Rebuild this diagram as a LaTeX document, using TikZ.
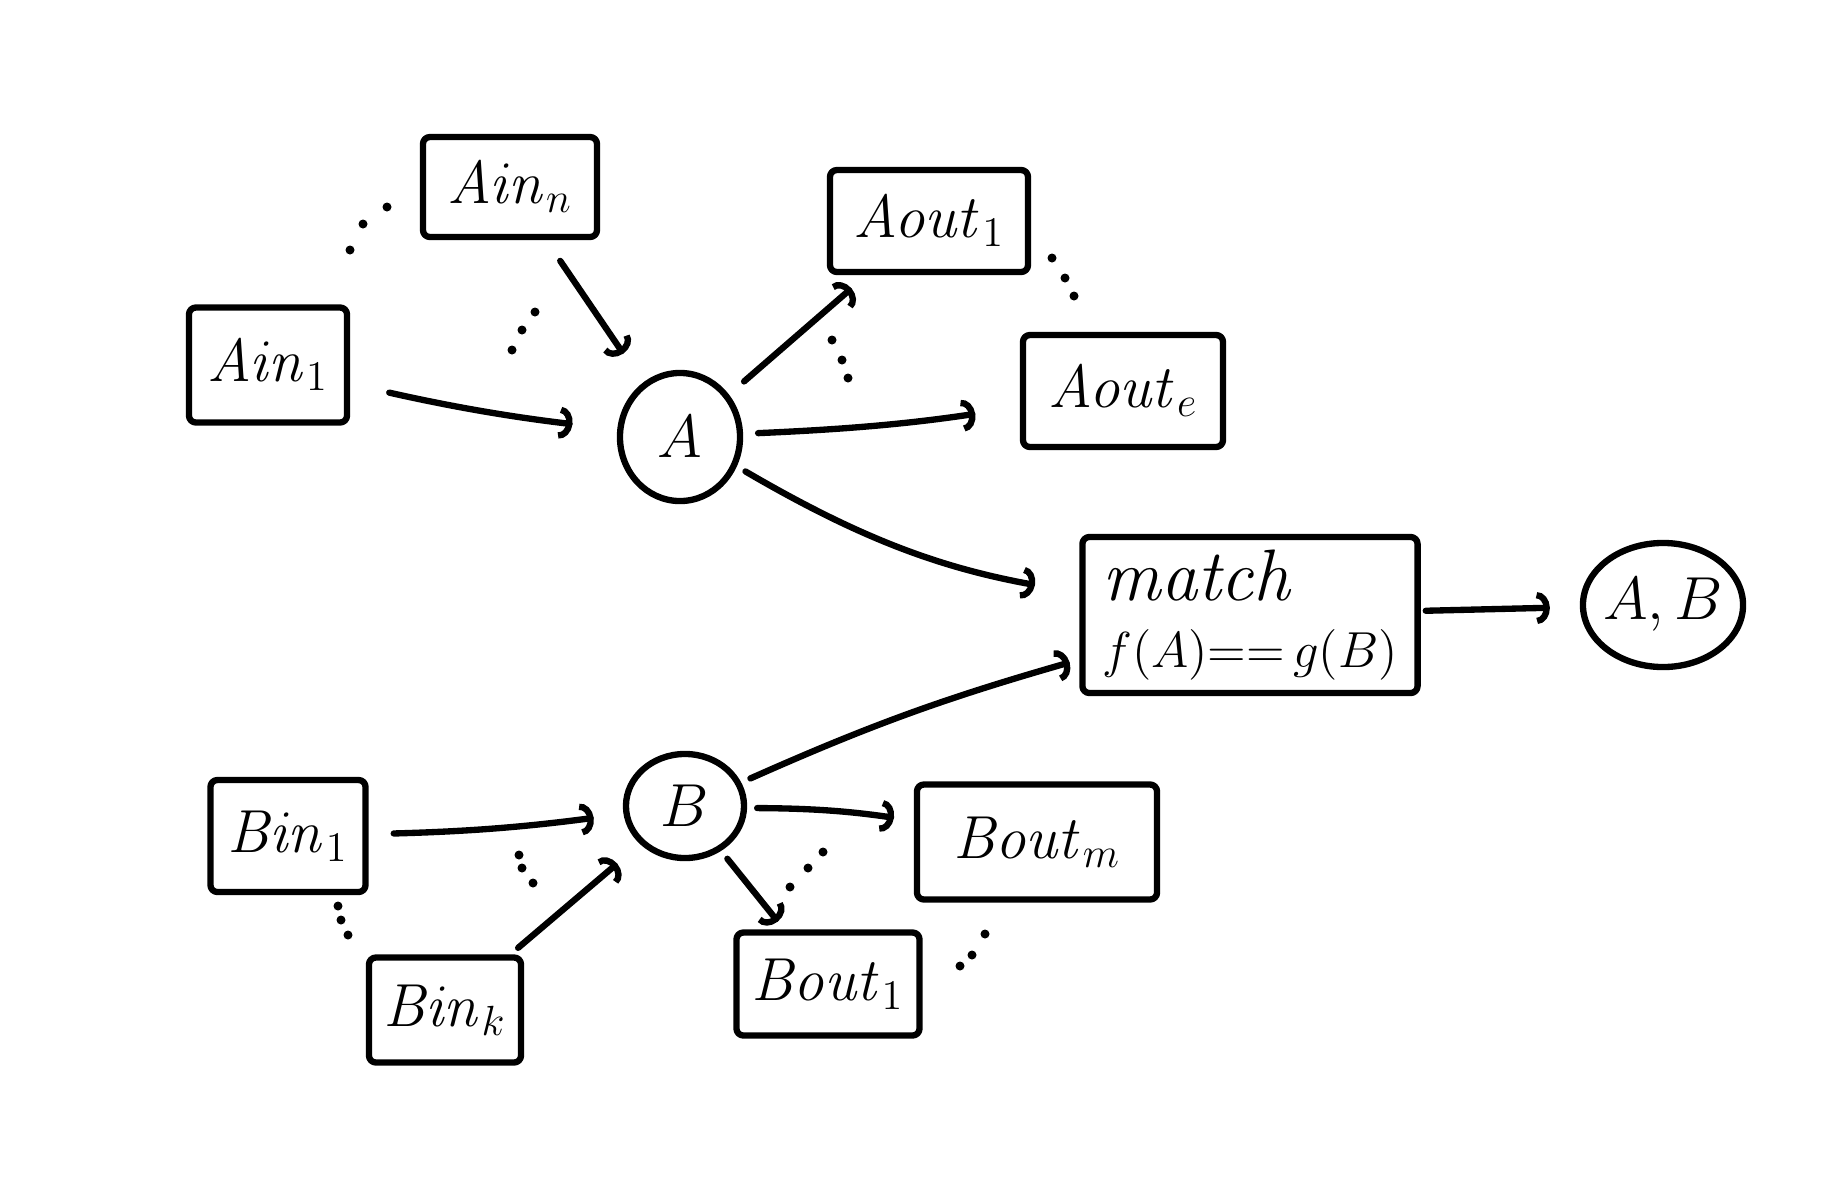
\documentclass[tikz,border=0pt]{standalone}
\usetikzlibrary{arrows.meta,shapes.geometric}
\begin{document}
\begin{tikzpicture}[x=0.01cm,y=-0.01cm,
  line width=1.8pt, line cap=round, line join=round,
  every node/.style={font=\fontsize{18}{22}\selectfont},
  box/.style={draw, rectangle, rounded corners=2pt, inner sep=0pt},
  blob/.style={draw, ellipse, inner sep=0pt},
  flow/.style={-{Arc Barb[width=0.32cm,length=0.13cm]}, shorten <=0.3cm, shorten >=0.3cm},
  dot/.style={fill=black}
]
\useasboundingbox (0,0) rectangle (1836,1178);

% operators
\node[blob, minimum width=1.2cm, minimum height=1.28cm] (A) at (680,437) {\makebox[0pt]{$A$}};
\node[blob, minimum width=1.18cm, minimum height=1.04cm] (B) at (685,806) {\makebox[0pt]{$B$}};
\node[blob, minimum width=1.6cm, minimum height=1.24cm] (AB) at (1663,605) {\makebox[0pt]{$A{,}\,B$}};

% inputs and outputs of A
\node[box, minimum width=1.74cm, minimum height=1.0cm] (ainn) at (510,187) {$\mathit{Ain}_n$};
\node[box, minimum width=1.58cm, minimum height=1.15cm] (ain1) at (268,365) {$\mathit{Ain}_1$};
\node[box, minimum width=1.98cm, minimum height=1.02cm] (aout1) at (929,221) {$\mathit{Aout}_1$};
\node[box, minimum width=2.0cm, minimum height=1.12cm] (aoute) at (1123,391) {$\mathit{Aout}_e$};

% join
\node[box, minimum width=3.35cm, minimum height=1.56cm, align=left] (match) at (1250,615)
  {{\fontsize{20}{20}\selectfont$\mathit{match}$}\\[-3pt]
   {\fontsize{15}{18}\selectfont$f(A){=}{=}\,g(B)$}};

% inputs and outputs of B
\node[box, minimum width=1.55cm, minimum height=1.12cm] (bin1) at (288,836) {$\mathit{Bin}_1$};
\node[box, minimum width=1.52cm, minimum height=1.05cm] (bink) at (445,1010) {$\mathit{Bin}_k$};
\node[box, minimum width=2.4cm, minimum height=1.15cm] (boutm) at (1037,842) {$\mathit{Bout}_m$};
\node[box, minimum width=1.83cm, minimum height=1.03cm] (bout1) at (828,984) {$\mathit{Bout}_1$};

% connectors
\draw[flow, shorten <=0.4cm, shorten >=0.45cm] (ain1) to[bend right=3] (A);
\draw[flow, shorten <=0.25cm, shorten >=0.35cm] (ainn) -- (A);
\draw[flow, shorten <=0.2cm, shorten >=0.2cm] (A) -- (aout1);
\draw[flow, shorten <=0.15cm, shorten >=0.45cm] (A) to[bend right=3] (aoute);
\draw[flow, shorten <=0.1cm, shorten >=0.45cm] (A) to[bend right=10] (match);
\draw[flow, shorten <=0.1cm, shorten >=0.1cm] (B) to[bend left=4] (match);
\draw[flow, shorten <=0.05cm, shorten >=0.3cm] (match) -- (AB);

\draw[flow, shorten <=0.25cm, shorten >=0.3cm] (bin1) to[bend right=3] (B);
\draw[flow, shorten <=0.1cm, shorten >=0.3cm] (bink) -- (B);
\draw[flow, shorten <=0.1cm, shorten >=0.2cm] (B) to[bend left=4] (boutm);
\draw[flow, shorten <=0.1cm, shorten >=0.1cm] (B) -- (bout1);

% ellipsis dots
\foreach \p in {(350,250),(363,224),(387,207),
                (512,350),(522,330),(535,312),
                (1052,258),(1065,278),(1074,296),
                (832,340),(842,360),(848,378),
                (338,906),(341,920),(348,935),
                (519,855),(522,868),(533,883),
                (790,887),(808,868),(823,852),
                (985,934),(972,955),(960,966)}
  \fill[dot] \p circle (0.045cm);
\end{tikzpicture}
\end{document}
